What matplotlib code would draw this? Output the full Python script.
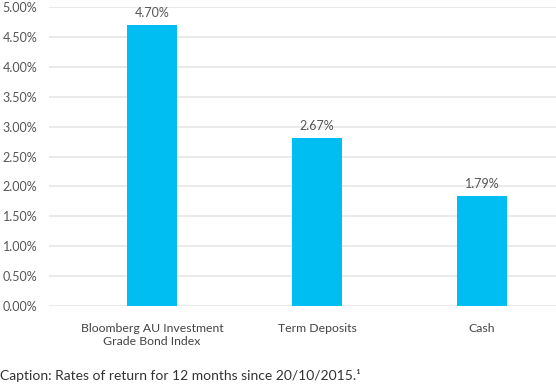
import matplotlib
matplotlib.use("Agg")
import matplotlib.pyplot as plt
from matplotlib.ticker import FuncFormatter

# data
categories = ["Bloomberg AU Investment\nGrade Bond Index", "Term Deposits", "Cash"]
bar_heights = [4.70, 2.81, 1.84]          # bar tops as drawn (percent)
value_labels = ["4.70%", "2.67%", "1.79%"]  # labels printed above bars
yticks = [0, 0.5, 1.0, 1.5, 2.0, 2.5, 3.0, 3.5, 4.0, 4.5, 5.0]
caption = "Caption: Rates of return for 12 months since 20/10/2015.\u00b9"

plt.rcParams['font.family'] = ['Lato', 'DejaVu Sans']

fig = plt.figure(figsize=(5.56, 3.86), dpi=100)
ax = fig.add_axes([49 / 556, 1 - 306 / 386, 1 - 49 / 556, 299 / 386])

x = list(range(len(categories)))
ax.bar(x, bar_heights, width=0.30, color='#00bdf2', zorder=3)

for xi, h, lab in zip(x, bar_heights, value_labels):
    ax.annotate(lab, (xi, h), xytext=(0, 4), textcoords='offset points',
                ha='center', va='bottom', fontsize=9, color='#555555')

ax.set_xlim(-0.624, 2.448)
ax.set_ylim(0, 5.0)
ax.set_yticks(yticks)
ax.yaxis.set_major_formatter(FuncFormatter(lambda v, p: f"{v:.2f}%"))
ax.grid(axis='y', color='#e8e8e8', linewidth=1.3, zorder=0)
ax.set_axisbelow(True)
for s in ax.spines.values():
    s.set_visible(False)
ax.tick_params(axis='y', length=0, pad=8.5, labelsize=9, labelcolor='#555555')
ax.tick_params(axis='x', length=0, pad=12, labelsize=8.8, labelcolor='#444444')
ax.set_xticks(x)
ax.set_xticklabels(categories, linespacing=1.25)

fig.text(0.0, 1 - 376 / 386, caption, ha='left', va='center',
         fontsize=10, color='#333333')

fig.savefig("out.png", dpi=100)
